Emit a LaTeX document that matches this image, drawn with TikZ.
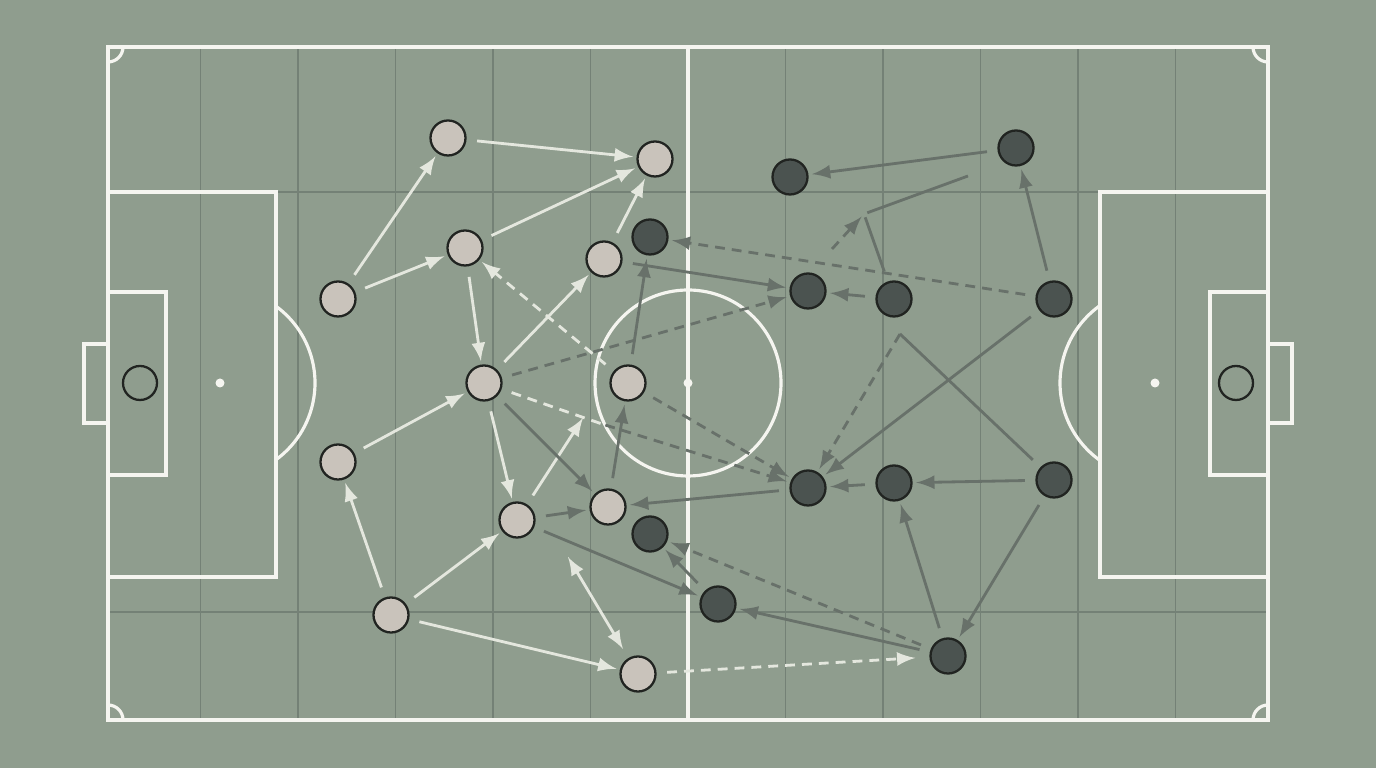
\documentclass[tikz,border=0pt]{standalone}
\usetikzlibrary{arrows}
\definecolor{turf}{RGB}{143,157,142}
\definecolor{gridline}{RGB}{116,129,118}
\definecolor{chalk}{RGB}{245,245,240}
\definecolor{homefill}{RGB}{201,195,187}
\definecolor{awayfill}{RGB}{75,83,80}
\definecolor{rim}{RGB}{33,36,33}
\definecolor{passlight}{RGB}{228,231,222}
\definecolor{passdark}{RGB}{104,113,106}
\pgfdeclarelayer{pitch}
\pgfdeclarelayer{runs}
\pgfsetlayers{pitch,runs,main}

\begin{document}
\begin{tikzpicture}[
			x=0.01cm, y=-0.01cm,
			home/.style={circle,draw=rim,fill=homefill,line width=0.65pt,
			inner sep=0pt,minimum size=3.5mm},
			away/.style={circle,draw=rim,fill=awayfill,line width=0.65pt,
			inner sep=0pt,minimum size=3.5mm},
			chalkline/.style={draw=chalk,line width=0.9pt},
			pass/.style={>=latex,draw=passlight,line width=0.8pt,->,
			shorten <=3pt,shorten >=1pt},
			press/.style={>=latex,draw=passdark,line width=0.8pt,->,
			shorten <=3pt,shorten >=1pt},
			dashy/.style={dash pattern=on 2.8pt off 2pt}
			]
			\useasboundingbox (0,0) rectangle (1376,768);
			% pitch
			\begin{pgfonlayer}{pitch}
			\fill[turf] (0,0) rectangle (1376,768);
			\foreach \k in {-5,...,-1,1,2,...,5}
				\draw[gridline,line width=0.45pt] (688+97.5*\k,47) -- (688+97.5*\k,720);
			\foreach \y in {192,612}
				\draw[gridline,line width=0.45pt] (108,\y) -- (1268,\y);
			\draw[chalkline] (108,47) rectangle (1268,720);
			\draw[chalkline] (688,47) -- (688,720);
			\draw[chalkline] (688,383) circle (93);
			\fill[chalk] (688,383) circle (4.5);
			% left end
			\draw[chalkline] (108,192) rectangle (276,577);
			\draw[chalkline] (108,292) rectangle (166,475);
			\draw[chalkline] (108,344) -- (84,344) -- (84,423) -- (108,423);
			\fill[chalk] (220,383) circle (4.5);
			\draw[chalkline] ([shift={(-53.9:95)}]220,383) arc (-53.9:53.9:95);
			\draw[rim,line width=0.65pt] (140,383) circle (17);
			% right end
			\draw[chalkline] (1100,192) rectangle (1268,577);
			\draw[chalkline] (1210,292) rectangle (1268,475);
			\draw[chalkline] (1268,344) -- (1292,344) -- (1292,423) -- (1268,423);
			\fill[chalk] (1155,383) circle (4.5);
			\draw[chalkline] ([shift={(126.1:95)}]1155,383) arc (126.1:233.9:95);
			\draw[rim,line width=0.65pt] (1236,383) circle (17);
			% corners
			\draw[chalkline] (108,62) arc (90:0:15);
			\draw[chalkline] (1253,47) arc (180:90:15);
			\draw[chalkline] (123,720) arc (0:-90:15);
			\draw[chalkline] (1268,705) arc (-90:-180:15);
			\end{pgfonlayer}

			% light side
			\node[home] (l1) at (448,138) {};
			\node[home] (l2) at (655,159) {};
			\node[home] (l3) at (465,248) {};
			\node[home] (l4) at (604,259) {};
			\node[home] (l5) at (338,299) {};
			\node[home] (l6) at (484,383) {};
			\node[home] (l7) at (628,383) {};
			\node[home] (l8) at (338,462) {};
			\node[home] (l9) at (517,520) {};
			\node[home] (l10) at (608,507) {};
			\node[home] (l11) at (391,615) {};
			\node[home] (l12) at (638,674) {};
			% dark side
			\node[away] (d1) at (1016,148) {};
			\node[away] (d2) at (790,177) {};
			\node[away] (d3) at (650,237) {};
			\node[away] (d4) at (808,291) {};
			\node[away] (d5) at (894,299) {};
			\node[away] (d6) at (1054,299) {};
			\node[away] (d7) at (808,488) {};
			\node[away] (d8) at (894,483) {};
			\node[away] (d9) at (1054,480) {};
			\node[away] (d10) at (650,534) {};
			\node[away] (d11) at (718,604) {};
			\node[away] (d12) at (948,656) {};

			\coordinate (hit) at (583,418);
			\coordinate (mid) at (602,424);
			\coordinate (swap) at (568,557);
			\coordinate (fork) at (864,214);
			\coordinate (forkr) at (968,176);
			\coordinate (forkl) at (832,249);
			\coordinate (cut) at (900,334);

			\begin{pgfonlayer}{runs}
			% light passes
			\draw[pass] (l1) -- (l2);
			\draw[pass] (l5) -- (l1);
			\draw[pass] (l5) -- (l3);
			\draw[pass] (l3) -- (l2);
			\draw[pass] (l4) -- (l2);
			\draw[pass] (l3) -- (l6);
			\draw[pass] (l6) -- (l4);
			\draw[pass] (l8) -- (l6);
			\draw[pass] (l6) -- (l9);
			\draw[pass,shorten >=0pt] (l9) -- (hit);
			\draw[pass] (l11) -- (l8);
			\draw[pass] (l11) -- (l9);
			\draw[pass] (l11) -- (l12);
			\draw[pass,<->,shorten <=0pt,shorten >=3pt] (swap) -- (l12);
			\draw[pass,dashy] (l7) -- (l3);
			\draw[pass,dashy,-,shorten >=0pt] (l6) -- (mid);
			\draw[pass,dashy,shorten >=4pt] (l12) -- (d12);
			% dark runs
			\draw[press] (l9) -- (l10);
			\draw[press] (l6) -- (l10);
			\draw[press] (l10) -- (l7);
			\draw[press] (l7) -- (d3);
			\draw[press] (l4) -- (d4);
			\draw[press] (l9) -- (d11);
			\draw[press,dashy] (l6) -- (d4);
			\draw[press,dashy,shorten <=1pt] (mid) -- (d7);
			\draw[press,dashy] (l7) -- (d7);
			\draw[press,dashy] (d6) -- (d3);
			\draw[press] (d5) -- (d4);
			\draw[press] (d1) -- (d2);
			\draw[press] (d6) -- (d1);
			\draw[press,-] (d5) -- (fork);
			\draw[press,-,shorten <=0pt] (forkr) -- (fork);
			\draw[press,dashy,shorten <=0pt] (forkl) -- (fork);
			\draw[press] (d6) -- (d7);
			\draw[press,-,shorten >=0pt] (d9) -- (cut);
			\draw[press,dashy,shorten <=0pt] (cut) -- (d7);
			\draw[press] (d8) -- (d7);
			\draw[press] (d9) -- (d8);
			\draw[press] (d7) -- (l10);
			\draw[press] (d12) -- (d8);
			\draw[press] (d9) -- (d12);
			\draw[press] (d12) -- (d11);
			\draw[press,dashy] (d12) -- (d10);
			\draw[press] (d11) -- (d10);
			\end{pgfonlayer}
		\end{tikzpicture}
\end{document}
